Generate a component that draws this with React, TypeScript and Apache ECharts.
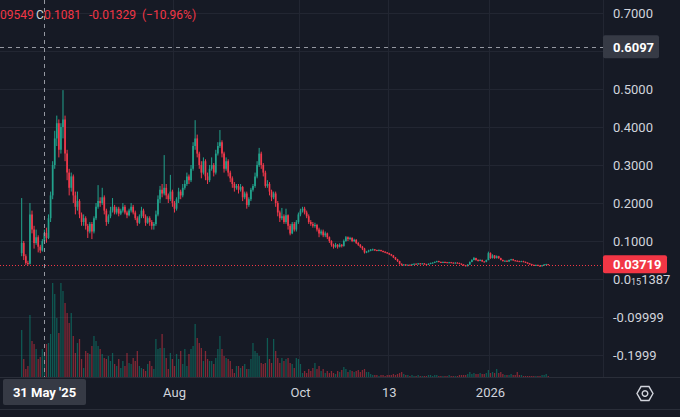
import React, { useEffect, useRef } from "react";
import * as echarts from "echarts";

// ---------- data ----------
const firstDay = "2025-05-19";
const axisStartDay = "2025-05-09";
const axisDayCount = 292;
const firstOpen = 0.068;

const closes = [
  0.095, 0.06, 0.042, 0.04, 0.17, 0.13, 0.095, 0.11, 0.085, 0.075,
  0.1, 0.1214, 0.1081, 0.16, 0.22, 0.30, 0.37, 0.41, 0.34, 0.40,
  0.42, 0.33, 0.28, 0.24, 0.27, 0.22, 0.19, 0.205, 0.17, 0.15,
  0.16, 0.14, 0.125, 0.145, 0.125, 0.16, 0.19, 0.205, 0.2, 0.215,
  0.18, 0.15, 0.165, 0.18, 0.19, 0.175, 0.185, 0.172, 0.18, 0.19,
  0.175, 0.168, 0.18, 0.19, 0.175, 0.16, 0.148, 0.165, 0.18, 0.165,
  0.148, 0.16, 0.15, 0.14, 0.145, 0.17, 0.21, 0.235, 0.225, 0.24,
  0.22, 0.21, 0.23, 0.2, 0.185, 0.21, 0.23, 0.22, 0.24, 0.25,
  0.27, 0.26, 0.29, 0.35, 0.37, 0.33, 0.30, 0.28, 0.31, 0.27,
  0.26, 0.29, 0.30, 0.28, 0.33, 0.35, 0.36, 0.33, 0.29, 0.31,
  0.28, 0.265, 0.25, 0.24, 0.245, 0.235, 0.242, 0.215, 0.225, 0.195,
  0.21, 0.235, 0.245, 0.27, 0.30, 0.33, 0.30, 0.28, 0.245, 0.25,
  0.23, 0.215, 0.225, 0.20, 0.175, 0.16, 0.165, 0.15, 0.168, 0.14,
  0.12, 0.145, 0.13, 0.15, 0.17, 0.18, 0.185, 0.175, 0.165, 0.15,
  0.145, 0.14, 0.142, 0.13, 0.12, 0.125, 0.115, 0.12, 0.11, 0.10,
  0.09, 0.085, 0.09, 0.085, 0.09, 0.087, 0.10, 0.11, 0.105, 0.108,
  0.10, 0.103, 0.095, 0.09, 0.085, 0.08, 0.07, 0.072, 0.075, 0.077,
  0.078, 0.076, 0.075, 0.076, 0.074, 0.072, 0.07, 0.068, 0.065, 0.062,
  0.057, 0.052, 0.047, 0.04, 0.037, 0.038, 0.037, 0.0375, 0.037, 0.039,
  0.04, 0.039, 0.041, 0.04, 0.041, 0.039, 0.038, 0.04, 0.042, 0.043,
  0.045, 0.047, 0.045, 0.044, 0.045, 0.044, 0.043, 0.044, 0.043, 0.042,
  0.043, 0.042, 0.04, 0.038, 0.036, 0.034, 0.038, 0.045, 0.05, 0.055,
  0.05, 0.048, 0.05, 0.046, 0.045, 0.05, 0.068, 0.055, 0.062, 0.055,
  0.06, 0.055, 0.05, 0.047, 0.048, 0.046, 0.05, 0.052, 0.049, 0.048,
  0.047, 0.046, 0.047, 0.045, 0.043, 0.041, 0.039, 0.037, 0.036, 0.037,
  0.035, 0.034, 0.036, 0.038, 0.039, 0.03719,
];

const highs = [
  0.213, 0.10, 0.065, 0.048, 0.20, 0.18, 0.14, 0.13, 0.115, 0.09,
  0.105, 0.13, 0.135, 0.17, 0.23, 0.31, 0.39, 0.43, 0.42, 0.41,
  0.497, 0.43, 0.34, 0.29, 0.28, 0.275, 0.23, 0.23, 0.21, 0.175,
  0.17, 0.165, 0.145, 0.15, 0.15, 0.165, 0.2, 0.247, 0.215, 0.24,
  0.22, 0.185, 0.17, 0.19, 0.213, 0.195, 0.19, 0.19, 0.185, 0.2,
  0.195, 0.18, 0.185, 0.2, 0.195, 0.18, 0.165, 0.17, 0.19, 0.185,
  0.17, 0.165, 0.165, 0.155, 0.15, 0.18, 0.22, 0.245, 0.25, 0.326,
  0.25, 0.225, 0.274, 0.235, 0.205, 0.215, 0.24, 0.235, 0.25, 0.26,
  0.28, 0.275, 0.3, 0.36, 0.418, 0.38, 0.335, 0.31, 0.32, 0.315,
  0.28, 0.3, 0.32, 0.305, 0.34, 0.36, 0.392, 0.365, 0.335, 0.32,
  0.315, 0.285, 0.27, 0.255, 0.25, 0.25, 0.25, 0.245, 0.23, 0.23,
  0.215, 0.24, 0.25, 0.28, 0.31, 0.345, 0.335, 0.305, 0.285, 0.26,
  0.255, 0.235, 0.23, 0.23, 0.205, 0.18, 0.187, 0.17, 0.185, 0.17,
  0.145, 0.15, 0.15, 0.155, 0.175, 0.185, 0.19, 0.19, 0.18, 0.17,
  0.155, 0.15, 0.148, 0.145, 0.135, 0.13, 0.13, 0.125, 0.122, 0.112,
  0.102, 0.093, 0.095, 0.092, 0.094, 0.092, 0.104, 0.113, 0.112, 0.111,
  0.11, 0.106, 0.105, 0.097, 0.092, 0.087, 0.082, 0.074, 0.077, 0.079,
  0.08, 0.079, 0.077, 0.078, 0.077, 0.075, 0.073, 0.071, 0.069, 0.066,
  0.063, 0.058, 0.053, 0.048, 0.041, 0.039, 0.039, 0.038, 0.038, 0.04,
  0.041, 0.041, 0.042, 0.042, 0.042, 0.042, 0.04, 0.041, 0.043, 0.044,
  0.046, 0.048, 0.048, 0.046, 0.046, 0.046, 0.045, 0.045, 0.045, 0.044,
  0.044, 0.044, 0.043, 0.041, 0.039, 0.037, 0.039, 0.046, 0.052, 0.058,
  0.056, 0.052, 0.052, 0.051, 0.047, 0.051, 0.072, 0.07, 0.065, 0.063,
  0.062, 0.061, 0.056, 0.051, 0.049, 0.049, 0.051, 0.053, 0.053, 0.05,
  0.049, 0.048, 0.048, 0.048, 0.046, 0.044, 0.042, 0.04, 0.038, 0.038,
  0.038, 0.036, 0.037, 0.039, 0.04, 0.0395,
];

const lows = [
  0.06, 0.05, 0.037, 0.035, 0.038, 0.12, 0.08, 0.09, 0.07, 0.068,
  0.072, 0.095, 0.09549, 0.105, 0.15, 0.21, 0.29, 0.35, 0.32, 0.33,
  0.37, 0.31, 0.26, 0.22, 0.23, 0.2, 0.17, 0.18, 0.16, 0.14,
  0.14, 0.13, 0.108, 0.12, 0.105, 0.12, 0.155, 0.185, 0.19, 0.195,
  0.17, 0.14, 0.145, 0.16, 0.175, 0.17, 0.17, 0.165, 0.168, 0.175,
  0.17, 0.16, 0.165, 0.175, 0.17, 0.155, 0.14, 0.145, 0.16, 0.16,
  0.14, 0.145, 0.14, 0.13, 0.13, 0.14, 0.165, 0.2, 0.215, 0.22,
  0.21, 0.2, 0.205, 0.19, 0.175, 0.18, 0.2, 0.21, 0.215, 0.235,
  0.245, 0.25, 0.255, 0.285, 0.34, 0.32, 0.29, 0.265, 0.275, 0.26,
  0.25, 0.255, 0.285, 0.27, 0.275, 0.325, 0.345, 0.32, 0.28, 0.285,
  0.27, 0.255, 0.24, 0.23, 0.235, 0.225, 0.23, 0.205, 0.21, 0.185,
  0.19, 0.205, 0.23, 0.24, 0.265, 0.295, 0.29, 0.27, 0.24, 0.24,
  0.22, 0.205, 0.21, 0.19, 0.165, 0.15, 0.155, 0.145, 0.145, 0.13,
  0.115, 0.118, 0.125, 0.125, 0.145, 0.165, 0.175, 0.17, 0.16, 0.145,
  0.14, 0.135, 0.135, 0.125, 0.11, 0.115, 0.11, 0.11, 0.105, 0.095,
  0.085, 0.08, 0.082, 0.08, 0.083, 0.083, 0.085, 0.098, 0.1, 0.102,
  0.097, 0.097, 0.092, 0.087, 0.082, 0.076, 0.067, 0.068, 0.07, 0.073,
  0.075, 0.074, 0.073, 0.073, 0.072, 0.07, 0.068, 0.066, 0.063, 0.06,
  0.055, 0.05, 0.045, 0.038, 0.035, 0.036, 0.036, 0.036, 0.036, 0.036,
  0.038, 0.038, 0.038, 0.039, 0.039, 0.038, 0.037, 0.037, 0.039, 0.041,
  0.042, 0.044, 0.044, 0.043, 0.043, 0.043, 0.042, 0.042, 0.042, 0.041,
  0.041, 0.041, 0.039, 0.037, 0.035, 0.033, 0.033, 0.037, 0.044, 0.049,
  0.048, 0.046, 0.047, 0.045, 0.044, 0.044, 0.049, 0.053, 0.054, 0.053,
  0.054, 0.053, 0.049, 0.046, 0.046, 0.045, 0.045, 0.049, 0.048, 0.047,
  0.046, 0.045, 0.045, 0.044, 0.042, 0.04, 0.038, 0.036, 0.035, 0.035,
  0.034, 0.033, 0.033, 0.035, 0.037, 0.0365,
];

// volume (millions, relative)
const volumes = [
  47, 18, 8, 11, 62, 36, 33, 28, 18, 20,
  28, 25, 33, 34, 43, 94, 83, 59, 44, 94,
  86, 74, 64, 54, 64, 41, 24, 34, 38, 18,
  9, 26, 24, 23, 31, 41, 36, 31, 28, 23,
  19, 18, 21, 16, 24, 13, 11, 18,
  9, 16, 11, 24, 14, 13, 19, 16, 26, 11,
  9, 8, 6, 13, 16, 11, 8, 38, 28, 29,
  43, 29, 19, 8, 24, 18, 11, 23, 18, 26,
  13, 28, 11, 23, 28, 31, 53, 39, 34, 29,
  16, 26, 18, 16, 16, 13, 19, 28, 41, 28,
  21, 19, 18, 16, 8, 4, 11, 11,
  9, 11, 13, 8, 8, 18, 34, 26, 24, 21,
  14, 13, 14, 39, 18, 14, 38, 26, 19, 14,
  19, 16, 18, 19, 14, 13, 9, 19,
  18, 13, 4, 6, 4, 8, 6, 9, 14,
  8, 11, 6, 8, 4, 6, 4, 6, 4, 3,
  6, 5, 7, 10, 8, 5, 7, 6, 5, 6, 7, 5, 7, 8, 5, 5, 3, 2,
  2, 2, 1, 2, 2, 1, 2, 2, 2, 3, 2, 3, 4, 5, 3, 2, 2,
  1, 2, 1, 1, 2, 1, 1, 1, 1, 2, 2, 1, 2, 2, 1, 1, 1, 1, 1, 2, 1, 1, 1, 1, 2, 2, 2, 2, 3, 5, 3,
  4, 3, 3, 4, 3, 3, 4, 7, 4, 5, 4, 8, 4, 5, 3, 2, 2,
  2, 3, 2, 2, 5, 2, 2, 1, 1, 1, 1, 1, 1, 1, 1, 1, 2, 2, 3, 1,
];

const timeTickDates = ["2025-08-01", "2025-10-01", "2025-11-13", "2026-01-01"];
const timeTickLabels = ["Aug", "Oct", "13", "2026"];

const priceTicks = [0.7, 0.5, 0.4, 0.3, 0.2, 0.1, 0, -0.1, -0.2];
const priceTickLabels = [
  "0.7000", "0.5000", "0.4000", "0.3000", "0.2000", "0.1000",
  "{a|0.0}{s|15}{a|1387}", "-0.09999", "-0.1999",
];

const crossDate = "2025-05-31";
const crossDateLabel = "31 May '25";
const crossPrice = 0.6097;
const crossPriceLabel = "0.6097";
const lastPriceLabel = "0.03719";
const legendParts = ["09549", "C", "0.1081", "-0.01329", "(\u221210.96%)"];

// ---------- style ----------
const W = 680;
const H = 417;
const OFF = 25; // chart canvas starts 25px above the page top
const CH = H + OFF;
const AXIS_W = 77;
const BG = "#161a25";
const GRID = "#222632";
const TXT = "#d1d4dc";
const UP = "#22a28c";
const DOWN = "#f0394b";
const UP_VOL = "rgba(8,153,129,0.5)";
const DOWN_VOL = "rgba(242,54,69,0.5)";
const FONT = 'Roboto, "Noto Sans", sans-serif';

function fmtDate(d: Date) {
  const m = String(d.getUTCMonth() + 1).padStart(2, "0");
  const dd = String(d.getUTCDate()).padStart(2, "0");
  return `${d.getUTCFullYear()}-${m}-${dd}`;
}

function buildCategories() {
  const [y, m, d] = axisStartDay.split("-").map(Number);
  const t0 = Date.UTC(y, m - 1, d);
  const out: string[] = [];
  for (let i = 0; i < axisDayCount; i++) out.push(fmtDate(new Date(t0 + i * 86400000)));
  return out;
}

export default function App() {
  const ref = useRef<HTMLDivElement>(null);

  useEffect(() => {
    document.body.style.margin = "0";
    document.body.style.background = BG;
    document.body.style.overflow = "hidden";
    if (!ref.current) return;
    const chart = echarts.init(ref.current, undefined, { renderer: "svg", width: W, height: CH });

    const cats = buildCategories();
    const offset = cats.indexOf(firstDay);
    const candleData: number[][] = [];
    const volData: any[] = cats.map(() => "-");
    closes.forEach((c, i) => {
      const o = i === 0 ? firstOpen : closes[i - 1];
      candleData.push([offset + i, o, c, lows[i], highs[i]]);
      volData[offset + i] = {
        value: volumes[i] ?? 0,
        itemStyle: { color: c >= o ? UP_VOL : DOWN_VOL },
      };
    });

    const tickIdx = (v: number) => priceTicks.findIndex((t) => Math.abs(t - v) < 1e-6);

    const option: any = {
      animation: false,
      backgroundColor: BG,
      textStyle: { fontFamily: FONT },
      grid: [
        { left: 0, right: AXIS_W, top: 0, height: 418 },
        { left: 0, right: AXIS_W, top: 280 + OFF, height: 97 },
      ],
      xAxis: [
        {
          type: "category",
          gridIndex: 0,
          data: cats,
          axisLine: { show: false },
          axisTick: { show: false },
          axisLabel: { show: false },
          splitLine: {
            show: true,
            interval: (_i: number, v: string) => timeTickDates.includes(v),
            lineStyle: { color: GRID, width: 1 },
          },
        },
        {
          type: "category",
          gridIndex: 1,
          data: cats,
          z: 100,
          axisLine: { show: false },
          axisTick: { show: false },
          splitLine: { show: false },
          axisLabel: {
            show: true,
            interval: (_i: number, v: string) => timeTickDates.includes(v),
            formatter: (v: string) => {
              const k = timeTickDates.indexOf(v);
              return k >= 0 ? timeTickLabels[k] : "";
            },
            color: TXT,
            fontSize: 13,
            fontFamily: FONT,
            margin: 9,
          },
        },
      ],
      yAxis: [
        {
          type: "value",
          gridIndex: 0,
          position: "right",
          min: -0.3,
          max: 0.8,
          interval: 0.1,
          axisLine: { show: false },
          axisTick: { show: false },
          splitLine: { show: true, lineStyle: { color: GRID, width: 1 } },
          axisLabel: {
            show: true,
            align: "left",
            margin: 10,
            color: TXT,
            fontSize: 13,
            fontFamily: FONT,
            formatter: (v: number) => {
              const k = tickIdx(v);
              return k >= 0 ? priceTickLabels[k] : "";
            },
            rich: {
              a: { color: TXT, fontSize: 13, fontFamily: FONT },
              s: { color: TXT, fontSize: 9, fontFamily: FONT, padding: [5, 0, 0, 0] },
            },
          },
        },
        {
          type: "value",
          gridIndex: 1,
          min: 0,
          max: 97,
          show: false,
          splitLine: { show: false },
        },
      ],
      series: [
        {
          type: "bar",
          name: "Volume",
          xAxisIndex: 1,
          yAxisIndex: 1,
          data: volData,
          barWidth: "62%",
          z: 1,
        },
        {
          type: "custom",
          name: "Price",
          xAxisIndex: 0,
          yAxisIndex: 0,
          data: candleData,
          encode: { x: 0, y: [1, 2, 3, 4] },
          clip: true,
          z: 3,
          renderItem: (_p: any, api: any) => {
            const xi = api.value(0);
            const o = api.value(1);
            const c = api.value(2);
            const l = api.value(3);
            const h = api.value(4);
            const pO = api.coord([xi, o]);
            const pC = api.coord([xi, c]);
            const pL = api.coord([xi, l]);
            const pH = api.coord([xi, h]);
            const col = c >= o ? UP : DOWN;
            const xc = pO[0];
            const top = Math.min(pO[1], pC[1]);
            const bh = Math.max(Math.abs(pO[1] - pC[1]), 1);
            const bw = 1.7;
            return {
              type: "group",
              children: [
                { type: "line", shape: { x1: xc, y1: pH[1], x2: xc, y2: pL[1] }, style: { stroke: col, lineWidth: 1 } },
                { type: "rect", shape: { x: xc - bw / 2, y: top, width: bw, height: bh }, style: { fill: col } },
              ],
            };
          },
        },
      ],
    };

    chart.setOption(option);

    const [cx, cy] = chart.convertToPixel({ gridIndex: 0 }, [crossDate, crossPrice]) as number[];
    const [, ly] = chart.convertToPixel({ gridIndex: 0 }, [crossDate, closes[closes.length - 1]]) as number[];
    const [, base] = chart.convertToPixel({ gridIndex: 1 }, [crossDate, 0]) as number[];
    const right = W - AXIS_W;
    const b = Math.round(base) + 0.5;

    const gx = 645;
    const gy = b + 16;
    const gr = 8;
    const hex: number[][] = [];
    for (let k = 0; k < 6; k++) {
      const a = (Math.PI / 3) * k;
      hex.push([gx + gr * Math.cos(a), gy + gr * Math.sin(a)]);
    }
    const ty = OFF + 15;

    const graphic: any[] = [
      { type: "rect", z: 50, silent: true, shape: { x: 0, y: b, width: W, height: CH - b }, style: { fill: BG } },
      { type: "line", z: 60, silent: true, shape: { x1: 0, y1: b, x2: W, y2: b }, style: { stroke: "#2a2e39", lineWidth: 1 } },
      { type: "line", z: 60, silent: true, shape: { x1: 0, y1: b + 32, x2: W, y2: b + 32 }, style: { stroke: "#2a2e39", lineWidth: 1 } },
      // last price dotted line
      { type: "line", z: 40, silent: true, shape: { x1: 0, y1: Math.round(ly) + 0.5, x2: right, y2: Math.round(ly) + 0.5 }, style: { stroke: "#f23645", lineWidth: 1, lineDash: [1, 2] } },
      // crosshair
      { type: "line", z: 45, silent: true, shape: { x1: Math.round(cx) - 1.5, y1: OFF, x2: Math.round(cx) - 1.5, y2: b }, style: { stroke: "#9598a1", lineWidth: 1, lineDash: [4, 4] } },
      { type: "line", z: 45, silent: true, shape: { x1: 0, y1: Math.round(cy) + 0.5, x2: right, y2: Math.round(cy) + 0.5 }, style: { stroke: "#9598a1", lineWidth: 1, lineDash: [4, 4] } },
      // price label boxes
      { type: "rect", z: 70, silent: true, shape: { x: right, y: cy - 12, width: 56, height: 23, r: 2 }, style: { fill: "#363a45" } },
      { type: "text", z: 71, silent: true, x: right + 10, y: cy, style: { text: crossPriceLabel, fill: "#ffffff", font: `bold 13px ${FONT}`, verticalAlign: "middle", align: "left" } },
      { type: "rect", z: 70, silent: true, shape: { x: right, y: ly - 9.5, width: 64, height: 18, r: 2 }, style: { fill: "#f23645" } },
      { type: "text", z: 71, silent: true, x: right + 10, y: ly, style: { text: lastPriceLabel, fill: "#ffffff", font: `bold 13px ${FONT}`, verticalAlign: "middle", align: "left" } },
      // date box
      { type: "rect", z: 110, silent: true, shape: { x: 3, y: b + 1.5, width: 83, height: 26, r: 2 }, style: { fill: "#363a45" } },
      { type: "text", z: 111, silent: true, x: 44.5, y: b + 15, style: { text: crossDateLabel, fill: "#ffffff", font: `bold 13px ${FONT}`, verticalAlign: "middle", align: "center" } },
      // legend
      { type: "text", z: 80, silent: true, x: 0, y: ty, style: { text: legendParts[0], fill: "#f23645", font: `12px ${FONT}`, verticalAlign: "middle" } },
      { type: "text", z: 80, silent: true, x: 36, y: ty, style: { text: legendParts[1], fill: TXT, font: `12px ${FONT}`, verticalAlign: "middle" } },
      { type: "text", z: 80, silent: true, x: 44, y: ty, style: { text: legendParts[2], fill: "#f23645", font: `12px ${FONT}`, verticalAlign: "middle" } },
      { type: "text", z: 80, silent: true, x: 89, y: ty, style: { text: legendParts[3], fill: "#f23645", font: `12px ${FONT}`, verticalAlign: "middle" } },
      { type: "text", z: 80, silent: true, x: 142, y: ty, style: { text: legendParts[4], fill: "#f23645", font: `12px ${FONT}`, verticalAlign: "middle" } },
      // settings icon
      { type: "polygon", z: 80, silent: true, shape: { points: hex }, style: { fill: "none", stroke: TXT, lineWidth: 1.4 } },
      { type: "circle", z: 80, silent: true, shape: { cx: gx, cy: gy, r: 2.8 }, style: { fill: "none", stroke: TXT, lineWidth: 1.4 } },
    ];

    chart.setOption({ graphic });

    return () => chart.dispose();
  }, []);

  return (
    <div
      ref={ref}
      style={{ position: "absolute", left: 0, top: -OFF, width: W, height: CH }}
    />
  );
}
